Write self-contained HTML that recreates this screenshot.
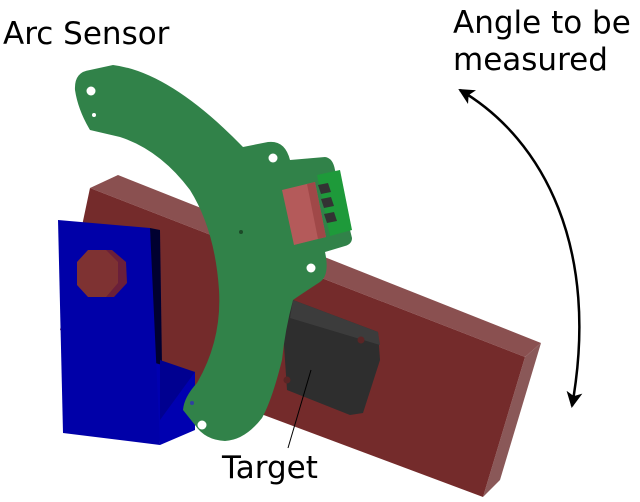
<!DOCTYPE html>
<html><head><meta charset="utf-8"><style>
html,body{margin:0;padding:0;background:#fff;}
svg{display:block}
text{font-family:"DejaVu Sans","Liberation Sans",sans-serif;fill:#000}
</style></head><body>
<svg width="640" height="502" viewBox="0 0 640 502">
<defs>
<marker id="ah" markerWidth="18" markerHeight="16" refX="14" refY="8" orient="auto-start-reverse" markerUnits="userSpaceOnUse">
<path d="M0,0 L16,8 L0,16 L4,8 Z" fill="#000"/>
</marker>
</defs>
<!-- red bar -->
<polygon points="90,188 118,175 541,343 525,357" fill="#8a5050"/>
<polygon points="525,357 541,343 500,480 483,497" fill="#8a5858"/>
<polygon points="90,188 525,357 483,497 170,380 60,330" fill="#742b2b"/>
<!-- blue block -->
<polygon points="150,360 195,372 195,430 160,445" fill="#0000b0"/>
<polygon points="150,228 160,230 162,365 152,362" fill="#000030"/>
<polygon points="58,220 150,228 160,445 63,433" fill="#0000a8"/>
<polygon points="160,360 195,372 160,420" fill="#000090"/>
<!-- bolt -->
<polygon points="92,250 112,250 126,262 127,283 114,297 92,297 79,285 79,262" fill="#6a1f3a"/>
<polygon points="88,250 106,250 118,262 118,283 106,297 88,297 77,285 77,262" fill="#7e3232"/>
<!-- target -->
<polygon points="293,300 378,332 380,360 363,413 350,415 287,390 283,330" fill="#2e2e2e"/>
<polygon points="293,300 378,332 380,345 290,318" fill="#3c3c3c"/>
<circle cx="361" cy="340" r="3.5" fill="#5a2525"/>
<circle cx="287" cy="380" r="3.5" fill="#5a2525"/>
<!-- green PCB -->
<path d="M75,90 Q74,72 90,70 L113,65 Q170,72 243,147 L268,142 Q285,140 290,160 L325,157 Q333,158 335,170 L352,238 Q352,244 345,246 L325,252 Q330,275 320,282 Q300,295 293,300 Q285,330 282,360 Q272,400 262,418 Q245,440 225,441 Q205,440 195,425 L183,410 Q184,397 197,383 Q222,340 219,290 Q215,230 190,190 Q160,150 120,137 L90,130 Q78,110 75,90 Z" fill="#318249"/>
<circle cx="91" cy="91" r="4.5" fill="#fff"/>
<circle cx="94" cy="115" r="2" fill="#fff"/>
<circle cx="273" cy="158" r="4.5" fill="#fff"/>
<circle cx="311" cy="268" r="4.5" fill="#fff"/>
<circle cx="241" cy="232" r="2" fill="#1c4a28"/>
<circle cx="202" cy="425" r="4.5" fill="#fff"/>
<circle cx="192" cy="403" r="2" fill="#3040a0"/>
<!-- connector -->
<polygon points="317,175 340,170 352,230 330,236" fill="#1e9a3a"/>
<polygon points="318,185 328,183 331,192 321,194" fill="#333"/>
<polygon points="321,199 331,197 334,206 324,208" fill="#333"/>
<polygon points="324,214 334,212 337,221 327,223" fill="#333"/>
<polygon points="282,190 315,182 326,237 294,245" fill="#b45a5a"/>
<polygon points="307,184 315,182 326,237 318,239" fill="#a04848"/>
<!-- target leader -->
<line x1="288" y1="448" x2="311" y2="370" stroke="#000" stroke-width="1"/>
<!-- angle arrow -->
<path d="M460,90 C545,140 600,250 572,406" fill="none" stroke="#000" stroke-width="2.5" marker-start="url(#ah)" marker-end="url(#ah)"/>
<!-- labels -->
<text x="3" y="44" font-size="31">Arc Sensor</text>
<text x="453" y="33" font-size="31">Angle to be</text>
<text x="453" y="70" font-size="31">measured</text>
<text x="222" y="478" font-size="31">Target</text>
</svg>
</body></html>
